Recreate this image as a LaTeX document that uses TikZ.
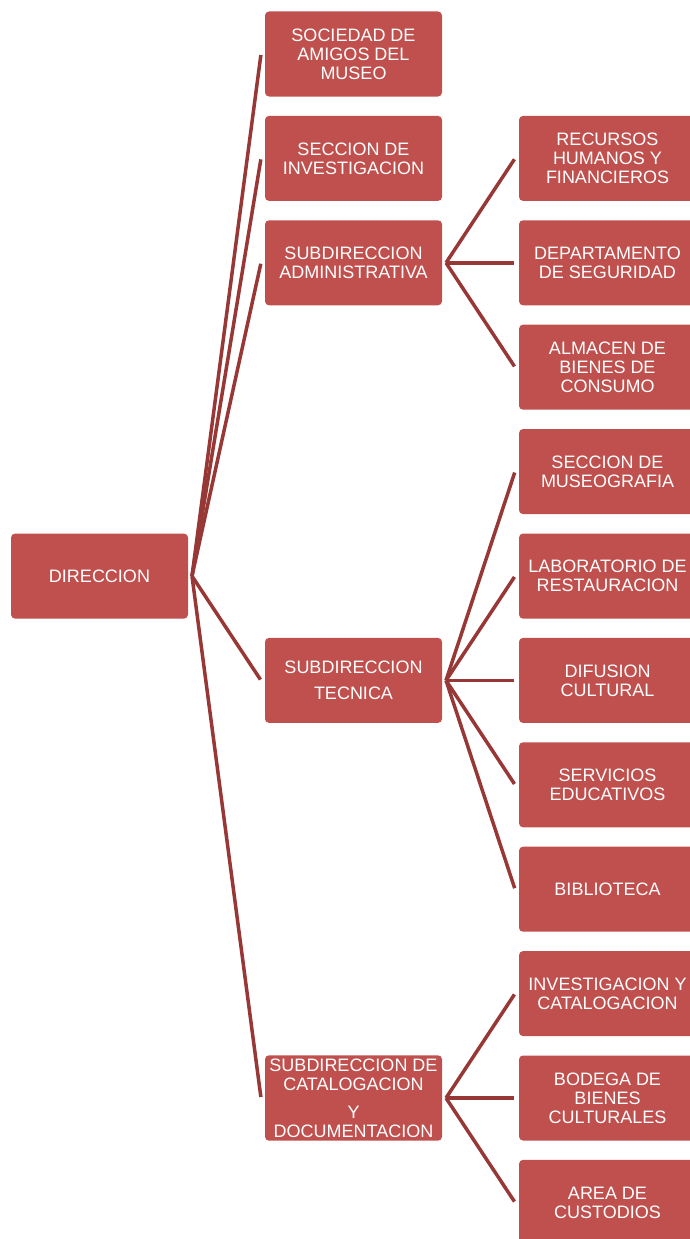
\documentclass[tikz,border=0pt]{standalone}
\usepackage{fontspec}
\setmainfont{Liberation Sans}
\definecolor{boxred}{RGB}{192,80,77}
\definecolor{linkred}{RGB}{152,56,54}
\tikzset{
  unit/.style={fill=boxred, text=white, rounded corners=4pt,
    minimum width=177pt, minimum height=85pt, inner xsep=0pt,
    outer xsep=4pt, align=center, font=\fontsize{18}{19}\selectfont},
  link/.style={draw=linkred, line width=3.5pt, shorten >=1pt}
}
\begin{document}
\begin{tikzpicture}[x=1pt,y=-1pt]
\useasboundingbox (0,0) rectangle (689,1239);
\node[unit] (dir) at (99.5,576.1) {DIRECCION};
\node[unit] (soc) at (353.5,54) {SOCIEDAD DE\\AMIGOS DEL\\MUSEO};
\node[unit] (inv) at (353.5,158.4) {SECCION DE\\INVESTIGACION};
\node[unit] (adm) at (353.5,262.8) {SUBDIRECCION\\ADMINISTRATIVA};
\node[unit] (tec) at (353.5,680.4) {SUBDIRECCION\\[7pt]TECNICA};
\node[unit] (cat) at (353.5,1098) {SUBDIRECCION DE\\CATALOGACION\\[9pt]Y\\DOCUMENTACION};
\node[unit] (r1) at (607.5,158.4) {RECURSOS\\HUMANOS Y\\FINANCIEROS};
\node[unit] (r2) at (607.5,262.8) {DEPARTAMENTO\\DE SEGURIDAD};
\node[unit] (r3) at (607.5,367.2) {ALMACEN DE\\BIENES DE\\CONSUMO};
\node[unit] (r4) at (607.5,471.6) {SECCION DE\\MUSEOGRAFIA};
\node[unit] (r5) at (607.5,576.1) {LABORATORIO DE\\RESTAURACION};
\node[unit] (r6) at (607.5,680.4) {DIFUSION\\CULTURAL};
\node[unit] (r7) at (607.5,784.8) {SERVICIOS\\EDUCATIVOS};
\node[unit] (r8) at (607.5,889.2) {BIBLIOTECA};
\node[unit] (r9) at (607.5,993.6) {INVESTIGACION Y\\CATALOGACION};
\node[unit] (r10) at (607.5,1098) {BODEGA DE\\BIENES\\CULTURALES};
\node[unit] (r11) at (607.5,1202.4) {AREA DE\\CUSTODIOS};
\foreach \sub in {soc, inv, adm, tec, cat} {
               \draw[link] (dir.east) -- (\sub.west);
               }
\foreach \i/\up in {1/adm, 2/adm, 3/adm, 4/tec, 5/tec, 6/tec, 7/tec, 8/tec,
                    9/cat, 10/cat, 11/cat} {
               \draw[link] (\up.east) -- (r\i.west);
               }
\end{tikzpicture}
\end{document}
